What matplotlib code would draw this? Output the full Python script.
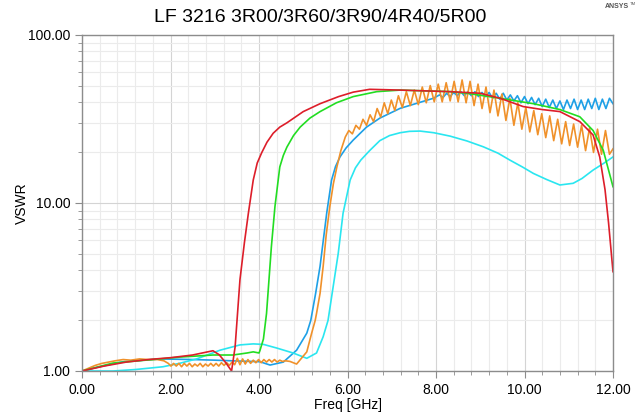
import matplotlib
matplotlib.use("Agg")
import matplotlib.pyplot as plt
from matplotlib.ticker import FixedLocator, MultipleLocator, FormatStrFormatter, LogLocator, NullFormatter

plt.rcParams['font.family'] = ['Liberation Sans', 'DejaVu Sans']

# ---- data (freq in GHz, VSWR) ----
red_f = [0, 0.5, 1.0, 1.5, 2.0, 2.5, 2.96, 3.1, 3.25, 3.38, 3.46, 3.57, 3.67, 3.76, 3.87, 3.96, 4.06,
         4.18, 4.32, 4.47, 4.63, 5.0, 5.38, 5.8, 6.13, 6.5, 7.19, 8.32, 9.0, 9.45, 9.97, 10.4, 10.8,
         11.25, 11.55, 11.7, 11.82, 11.9, 12.0]
red_v = [1.0, 1.07, 1.13, 1.17, 1.2, 1.245, 1.32, 1.25, 1.12, 1.0, 1.39, 3.5, 5.8, 8.7, 13.7, 17.3, 19.9,
         23.0, 26, 28.3, 30, 35, 39, 43, 45.7, 47.5, 47, 46, 45, 42, 37.5, 36, 35,
         30.5, 25.4, 18.8, 12, 7.6, 3.9]

green_f = [0, 0.7, 1.76, 2.21, 2.96, 3.41, 3.73, 3.87, 4.0, 4.02, 4.1, 4.17, 4.28, 4.36, 4.47,
           4.55, 4.63, 4.78, 4.93, 5.15, 5.38, 5.75, 6.13, 6.66, 7.19, 8.32, 8.7, 9.45, 10.2, 10.8,
           11.25, 11.55, 11.78, 12.0]
green_v = [1.0, 1.115, 1.18, 1.21, 1.245, 1.245, 1.28, 1.30, 1.28, 1.32, 1.55, 2.2, 5.5, 9.5, 16.4,
           19.2, 21.5, 25.2, 28.3, 32, 35, 39.5, 43, 46, 47, 46, 45, 42, 39, 36,
           32.6, 27, 20.6, 12.5]

blue_f = [0, 0.4, 0.93, 1.76, 2.5, 3.0, 3.5, 4.02, 4.25, 4.55, 4.85, 5.08, 5.17, 5.28, 5.38, 5.46,
          5.53, 5.64, 5.73, 5.83, 5.97, 6.13, 6.43, 6.73, 7.19, 7.94,
          8.08, 8.16, 8.24, 8.32, 8.40, 8.48, 8.56, 8.64, 8.72, 8.80, 8.88, 8.96, 9.04, 9.12, 9.20,
          9.28, 9.36, 9.44, 9.52, 9.60, 9.68, 9.76, 9.84, 9.92, 10.00, 10.08, 10.16, 10.24, 10.32,
          10.40, 10.48, 10.56, 10.64, 10.72, 10.80, 10.88, 10.96, 11.04, 11.12, 11.20, 11.28, 11.36,
          11.44, 11.52, 11.60, 11.68, 11.76, 11.84, 11.92, 12.00]
blue_v = [1.0, 1.06, 1.136, 1.18, 1.17, 1.16, 1.147, 1.136, 1.085, 1.13, 1.33, 1.68, 2.0, 2.9, 4.2, 6.2,
          8.7, 13.7, 16.5, 18.8, 21.3, 23.7, 28.3, 32, 36.6, 42,
          44.0, 42.5, 45.0, 43.0, 45.5, 43.5, 46.0, 43.5, 46.0, 43.5, 46.0, 43.0, 45.5, 43.0, 45.5,
          42.0, 45.0, 41.5, 45.0, 41.0, 44.0, 40.5, 43.5, 39.5, 43.0, 39.0, 42.5, 38.5, 42.0,
          37.5, 41.5, 37.0, 41.0, 36.5, 40.5, 36.0, 41.0, 36.5, 41.5, 36.0, 41.0, 36.0,
          41.5, 36.5, 42.0, 36.0, 41.5, 36.5, 42.0, 39.0]

orange_f = [0, 0.15, 0.3, 0.45, 0.6, 0.75, 0.93, 1.1, 1.3, 1.5, 1.7, 1.85, 1.95,
            2.01, 2.07, 2.13, 2.19, 2.25, 2.31, 2.37, 2.43, 2.49, 2.55, 2.61, 2.67, 2.73, 2.79,
            2.85, 2.91, 2.97, 3.03, 3.09, 3.15, 3.21, 3.27, 3.33, 3.39, 3.45, 3.51, 3.57, 3.63,
            3.69, 3.75, 3.81, 3.87, 3.93, 3.99, 4.05, 4.11, 4.17, 4.23, 4.29, 4.35, 4.41, 4.47,
            4.53, 4.6, 4.7, 4.85, 5.08, 5.19, 5.27, 5.3, 5.38, 5.45, 5.52, 5.6, 5.68, 5.76, 5.85, 5.95,
            6.03, 6.11, 6.19, 6.27, 6.35, 6.43, 6.51, 6.59, 6.67, 6.75, 6.83, 6.91, 6.99, 7.07,
            7.15, 7.24, 7.33, 7.42, 7.51, 7.60, 7.69, 7.78, 7.87, 7.96, 8.05, 8.14, 8.23, 8.32,
            8.41, 8.50, 8.59, 8.68, 8.77, 8.86, 8.95, 9.04, 9.13, 9.22, 9.31, 9.40, 9.49, 9.58,
            9.67, 9.76, 9.85, 9.94, 10.03, 10.12, 10.21, 10.30, 10.39, 10.48, 10.57, 10.66, 10.75,
            10.84, 10.93, 11.02, 11.11, 11.20, 11.29, 11.38, 11.47, 11.56, 11.65, 11.74, 11.83,
            11.92, 12.0]
orange_v = [1.0, 1.04, 1.08, 1.11, 1.13, 1.15, 1.17, 1.16, 1.18, 1.17, 1.17, 1.15, 1.11,
            1.07, 1.11, 1.07, 1.11, 1.06, 1.11, 1.07, 1.11, 1.06, 1.10, 1.07, 1.11, 1.06, 1.10,
            1.07, 1.11, 1.07, 1.11, 1.07, 1.12, 1.08, 1.12, 1.08, 1.13, 1.09, 1.19, 1.09, 1.18,
            1.10, 1.17, 1.11, 1.16, 1.12, 1.17, 1.12, 1.17, 1.13, 1.17, 1.13, 1.17, 1.13, 1.16,
            1.14, 1.15, 1.14, 1.10, 1.30, 1.68, 2.0, 2.2, 2.9, 4.2, 6.5, 9.5, 13.0, 16.4, 20.5, 24.7,
            27.0, 25.8, 29.0, 27.5, 31.5, 29.0, 33.5, 30.5, 36.5, 32.5, 39.5, 34.0, 41.0, 35.5,
            43.5, 37.0, 46.0, 38.0, 47.0, 38.5, 49.0, 39.5, 50.0, 40.0, 51.0, 40.0, 52.0, 40.5,
            53.0, 40.0, 54.0, 39.5, 53.0, 38.0, 51.0, 36.5, 49.0, 34.5, 47.0, 33.0, 44.5, 31.0,
            42.0, 29.0, 39.5, 27.5, 37.0, 26.5, 35.5, 25.5, 34.0, 24.5, 33.0, 23.5, 31.5,
            22.5, 30.5, 22.0, 29.5, 21.5, 29.0, 20.5, 28.0, 20.0, 27.5, 19.5, 27.0,
            19.5, 21.0]

cyan_f = [0, 0.7, 1.2, 1.83, 2.2, 2.59, 3.12, 3.57, 3.87, 4.1, 4.4, 4.77, 5.08, 5.3, 5.45, 5.56,
          5.67, 5.79, 5.9, 6.06, 6.18, 6.3, 6.5, 6.73, 6.95, 7.19, 7.4, 7.64, 7.95, 8.32, 8.7, 9.07,
          9.4, 9.67, 9.95, 10.2, 10.5, 10.8, 11.1, 11.3, 11.55, 11.8, 12.0]
cyan_v = [1.0, 1.0, 1.02, 1.06, 1.11, 1.18, 1.33, 1.43, 1.45, 1.44, 1.37, 1.28, 1.19, 1.28, 1.6, 2.0,
          3.1, 5.0, 8.7, 13.7, 16.2, 18, 20.5, 23.5, 25.2, 26.2, 26.7, 26.8, 26.2, 25.0, 23.4, 21.6,
          19.8, 18, 16.4, 15, 13.8, 12.8, 13.1, 14.0, 15.7, 17.3, 18.8]

xticks = [0, 2, 4, 6, 8, 10, 12]
yticks = [1, 10, 100]

fig = plt.figure(figsize=(6.41, 4.18), dpi=100)
ax = fig.add_axes([82/641, 1-371/418, 531/641, 336/418])

lw = 1.2
ax.plot(blue_f, blue_v, color='#1EA0E6', lw=lw)
ax.plot(cyan_f, cyan_v, color='#2AE6F0', lw=lw)
ax.plot(orange_f, orange_v, color='#F0912A', lw=lw)
ax.plot(green_f, green_v, color='#22DD22', lw=lw)
ax.plot(red_f, red_v, color='#DD1E2A', lw=lw)

ax.set_yscale('log')
ax.set_xlim(0, 12)
ax.set_ylim(1, 100)

ax.xaxis.set_major_locator(FixedLocator(xticks))
ax.xaxis.set_minor_locator(MultipleLocator(0.4))
ax.xaxis.set_major_formatter(FormatStrFormatter('%.2f'))
ax.yaxis.set_major_locator(FixedLocator(yticks))
ax.yaxis.set_minor_locator(LogLocator(base=10, subs=range(2, 10)))
ax.yaxis.set_major_formatter(FormatStrFormatter('%.2f'))
ax.yaxis.set_minor_formatter(NullFormatter())

ax.grid(True, which='major', color='#D4D4D4', lw=0.8)
ax.grid(True, which='minor', color='#EBEBEB', lw=0.8)
ax.set_axisbelow(True)

for s in ax.spines.values():
    s.set_color('#8C8C8C')
    s.set_linewidth(1.0)
ax.tick_params(which='both', colors='#8C8C8C', labelcolor='black', labelsize=10, direction='out')
ax.tick_params(which='major', length=5)
ax.tick_params(which='minor', length=3)

ax.set_xlabel('Freq [GHz]', fontsize=10, labelpad=1)
ax.set_ylabel('VSWR', fontsize=10, labelpad=-1)
fig.text(0.5, 1-18/418, 'LF 3216 3R00/3R60/3R90/4R40/5R00', ha='center', va='center', fontsize=14)
fig.text(617/641, 1-6/418, 'ANSYS', ha='center', va='center', fontsize=5, fontweight='bold', color='#555555')
fig.text(633/641, 1-4/418, 'TM', ha='center', va='center', fontsize=3, color='#555555')

fig.savefig('out.png', dpi=100)
